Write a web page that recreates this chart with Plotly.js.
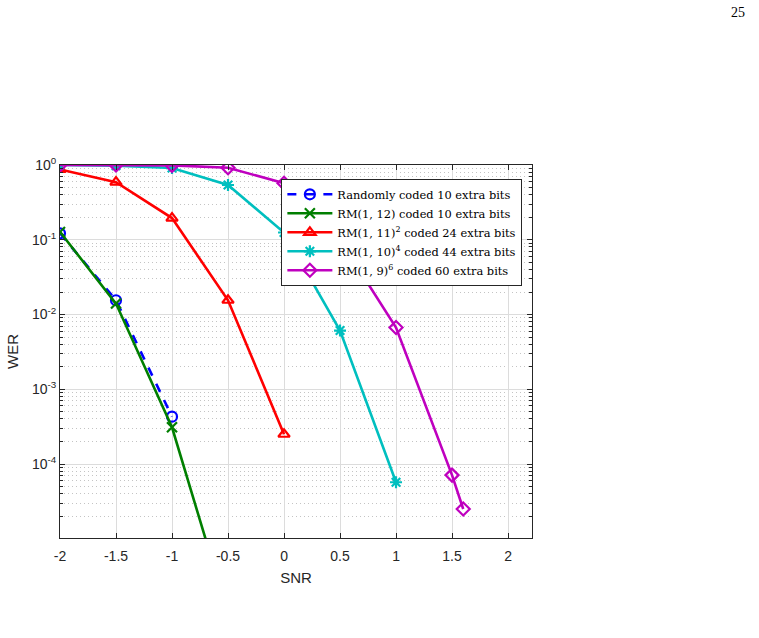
<!DOCTYPE html>
<html>
<head>
<meta charset="utf-8">
<script src="https://cdn.plot.ly/plotly-3.0.1.min.js"></script>
<style>
  html, body { margin: 0; padding: 0; background: #fff; }
  #chart { width: 759px; height: 638px; }
</style>
</head>
<body>
<div id="chart"></div>
<script>
// SNR points and word error rates for each coding scheme
const snrRandom = [-2, -1.5, -1];
const werRandom = [0.122, 0.0155, 4.3e-4];

const snrRM12 = [-2, -1.5, -1, -0.5];
const werRM12 = [0.127, 0.014, 3.1e-4, 1.0e-6];

const snrRM11 = [-2, -1.5, -1, -0.5, 0];
const werRM11 = [0.87, 0.59, 0.195, 0.0155, 2.5e-4];

const snrRM10 = [-2, -1.5, -1, -0.5, 0, 0.5, 1];
const werRM10 = [1.0, 0.98, 0.91, 0.54, 0.125, 0.0061, 5.7e-5];

const snrRM9 = [-2, -1.5, -1, -0.5, 0, 0.5, 1, 1.5, 1.6];
const werRM9 = [1.0, 1.0, 0.99, 0.92, 0.57, 0.1, 0.0067, 7.1e-5, 2.5e-5];

const seriesNames = [
  'Randomly coded 10 extra bits',
  'RM(1, 12) coded 10 extra bits',
  'RM(1, 11)<sup>2</sup> coded 24 extra bits',
  'RM(1, 10)<sup>4</sup> coded 44 extra bits',
  'RM(1, 9)<sup>6</sup> coded 60 extra bits'
];

const xTicks = [-2, -1.5, -1, -0.5, 0, 0.5, 1, 1.5, 2];
const xTickText = ['-2', '-1.5', '-1', '-0.5', '0', '0.5', '1', '1.5', '2'];
const yTicks = [1e-4, 1e-3, 1e-2, 1e-1, 1];
const yTickText = ['10<sup>-4</sup>', '10<sup>-3</sup>', '10<sup>-2</sup>', '10<sup>-1</sup>', '10<sup>0</sup>'];

function curve(x, y, name, color, symbol, dash) {
  return {
    x: x, y: y, name: name, type: 'scatter', mode: 'lines+markers',
    line: { color: color, width: 2.6, dash: dash || 'solid' },
    marker: { symbol: symbol, size: 10, color: color, line: { color: color, width: 2.2 } }
  };
}

const traces = [
  curve(snrRandom, werRandom, seriesNames[0], '#0000ff', 'circle-open', 'dash'),
  curve(snrRM12, werRM12, seriesNames[1], '#007f00', 'x-thin-open'),
  curve(snrRM11, werRM11, seriesNames[2], '#ff0000', 'triangle-up-open'),
  curve(snrRM10, werRM10, seriesNames[3], '#00bfbf', 'asterisk-open'),
  curve(snrRM9, werRM9, seriesNames[4], '#bf00bf', 'diamond-open')
];

const axisColor = '#262626';
const tickFont = { family: 'Liberation Sans, Arial, sans-serif', size: 14, color: axisColor };

const layout = {
  width: 759, height: 638,
  margin: { l: 60, r: 227, t: 165, b: 100 },
  paper_bgcolor: '#ffffff', plot_bgcolor: '#ffffff',
  showlegend: true,
  legend: {
    x: 0.469, y: 0.963, xanchor: 'left', yanchor: 'top',
    bgcolor: '#ffffff', bordercolor: '#262626', borderwidth: 1,
    font: { family: 'DejaVu Serif, Liberation Serif, serif', size: 11.4, color: '#000' },
    itemwidth: 45, tracegroupgap: 0
  },
  xaxis: {
    range: [-2, 2.214], tickvals: xTicks, ticktext: xTickText,
    ticks: 'inside', ticklen: 5, tickcolor: axisColor, tickfont: tickFont,
    ticklabelstandoff: 5,
    showline: true, linecolor: axisColor, linewidth: 1, mirror: 'ticks',
    showgrid: true, gridcolor: '#dcdcdc', gridwidth: 1, zeroline: false,
    title: { text: 'SNR', font: { family: 'Liberation Sans, Arial, sans-serif', size: 15, color: axisColor }, standoff: 9 }
  },
  yaxis: {
    type: 'log', range: [-4.99, 0], tickvals: yTicks, ticktext: yTickText,
    ticks: 'inside', ticklen: 5, tickcolor: axisColor, tickfont: tickFont,
    showline: true, linecolor: axisColor, linewidth: 1, mirror: 'ticks',
    showgrid: true, gridcolor: '#dcdcdc', gridwidth: 1, zeroline: false,
    minor: { dtick: 'D1', showgrid: true, gridcolor: '#c4c4c4', griddash: '1px,3px', ticks: 'inside', ticklen: 3, tickcolor: axisColor },
    title: { text: 'WER', font: { family: 'Liberation Sans, Arial, sans-serif', size: 15, color: axisColor }, standoff: 9 }
  },
  annotations: [{
    text: '25', xref: 'paper', yref: 'paper', x: 1.455, y: 1.41,
    xanchor: 'right', yanchor: 'middle', showarrow: false,
    font: { family: 'Liberation Serif, Times New Roman, serif', size: 14, color: '#000' }
  }]
};

Plotly.newPlot('chart', traces, layout, { displayModeBar: false, staticPlot: true });
</script>
</body>
</html>
